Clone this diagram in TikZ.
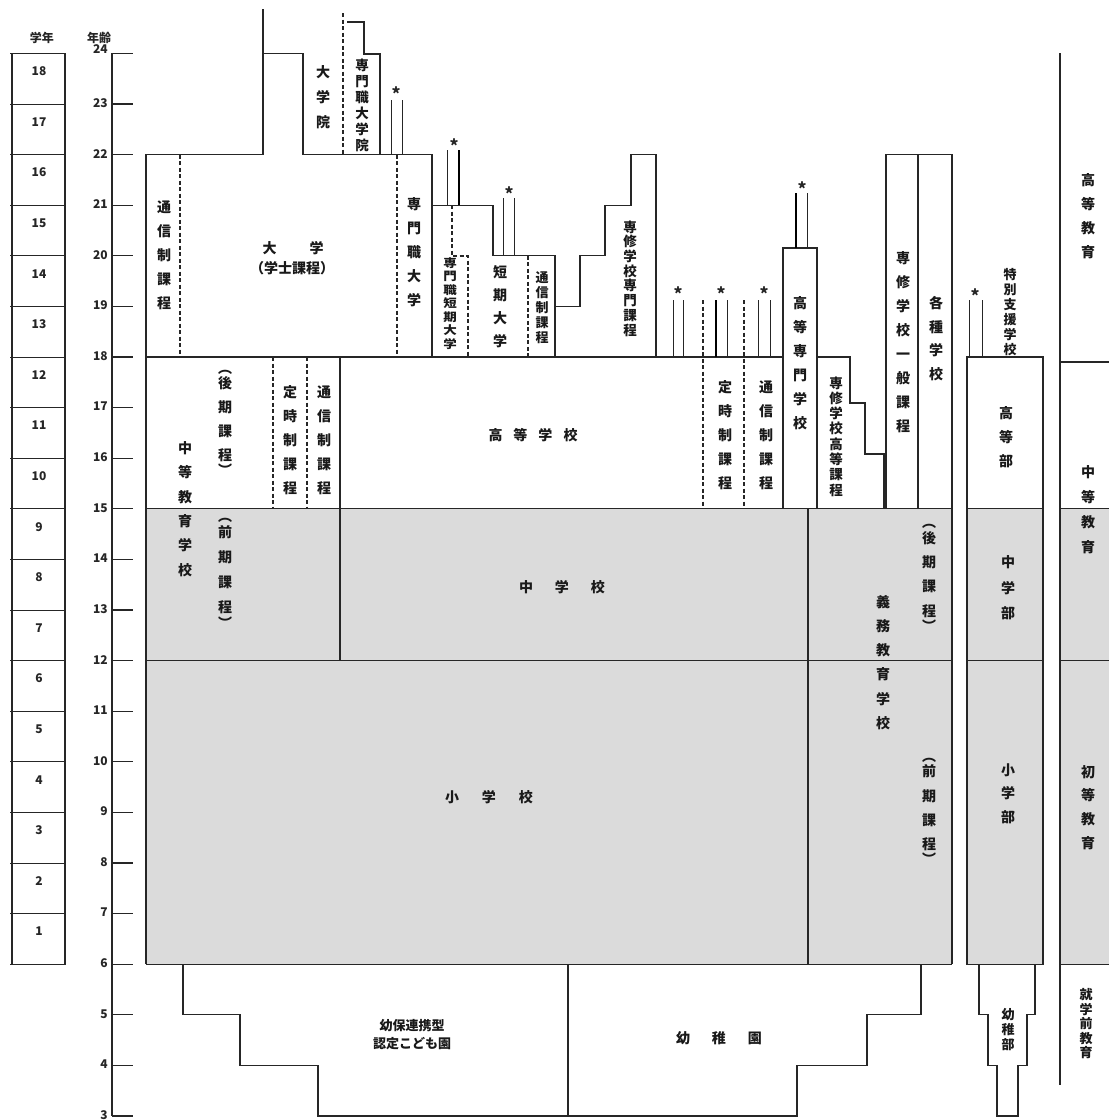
\documentclass[tikz,border=0pt]{standalone}
\usepackage{fontspec}
\usepackage{graphicx}
\setmainfont{Noto Sans CJK JP}
\tikzset{
 ln/.style={line width=1.3pt, draw=black!85},
 dsh/.style={line width=1.1pt, draw=black!85, dash pattern=on 4pt off 2.5pt},
 stub/.style={line width=1pt, draw=black!85},
 thk/.style={line width=2.3pt, draw=black},
 grey/.style={fill=black!14},
 vt/.style 2 args={font=\bfseries\fontsize{#1}{#2}\selectfont, align=center, inner sep=0pt, text=black!90},
 ht/.style={font=\bfseries\fontsize{14}{18}\selectfont, align=center, inner sep=0pt, text=black!90},
 num/.style={font=\bfseries\fontsize{12}{13}\selectfont, inner sep=0pt, text=black!85},
 ast/.style={font=\bfseries\fontsize{17}{18}\selectfont, inner sep=0pt, text=black!85},
}
\begin{document}
\begin{tikzpicture}[x=1pt,y=-1pt]
\fill[white] (0,0) rectangle (1109,1120);
\useasboundingbox (0,0) rectangle (1109,1120);
% grey fills
\fill[grey] (146,508.8) rectangle (808,964.2);
\fill[grey] (808,508.8) rectangle (952,964.2);
\fill[grey] (967,508.8) rectangle (1043,964.2);
\fill[grey] (1060,508.8) rectangle (1109,964.2);
% header
\node[num] (hgrade) at (42,38) {学年};
\node[num] (hage) at (99,38) {年齢};
% grade column
\draw[ln] (12,53.4) -- (12,964.2);
\draw[ln] (65,53.4) -- (65,964.2);
\foreach \a in {6,...,24} {\pgfmathsetmacro\yy{1116-50.6*(\a-3)} \draw[stub] (10,\yy) -- (66,\yy);}
\foreach \g in {1,...,18} {\pgfmathsetmacro\yy{1116-50.6*(\g+3)+18} \node[num] (g\g) at (39,\yy) {\g};}
% age axis
\draw[ln] (112,53.4) -- (112,1116);
\foreach \a in {3,...,24} {\pgfmathsetmacro\yy{1116-50.6*(\a-3)} \draw[ln] (112,\yy) -- (133,\yy);}
\foreach \a in {3,...,23} {\pgfmathsetmacro\yy{1116-50.6*(\a-3)-1} \node[num,anchor=east] (a\a) at (108,\yy) {\a};}
\node[num,anchor=south east] (a24) at (108,54) {24};
% university block
\draw[ln] (146,964.2) -- (146,154.6) -- (263,154.6);
\draw[ln] (263,9) -- (263,154.6);
\draw[ln] (263,53.4) -- (303,53.4) -- (303,154.6) -- (432,154.6) -- (432,357);
\draw[dsh] (343,13) -- (343,154.6);
\draw[ln] (347,22) -- (364,22) -- (364,54) -- (380,54) -- (380,154.6);
\draw[stub] (391,100) -- (391,154.6);
\draw[stub] (402,100) -- (402,154.6);
\node[ast] (s1) at (396,94) {*};
\draw[dsh] (180,154.6) -- (180,357);
\draw[dsh] (397,154.6) -- (397,357);
% junior college block
\draw[ln] (432,205.2) -- (493,205.2) -- (493,255.8) -- (555,255.8) -- (555,357);
\draw[stub] (447,150) -- (447,205.2);
\draw[thk] (459,150) -- (459,205.2);
\node[ast] (s2) at (454,146) {*};
\draw[dsh] (452,205.2) -- (452,256) -- (468,256) -- (468,357);
\draw[stub] (503,198) -- (503,255.8);
\draw[stub] (514,198) -- (514,255.8);
\node[ast] (s3) at (509,194) {*};
\draw[dsh] (528,255.8) -- (528,357);
% senshu senmon
\draw[ln] (555,306.4) -- (580,306.4) -- (580,255.8) -- (605,255.8) -- (605,205.2) -- (631,205.2) -- (631,154.6) -- (656,154.6) -- (656,357);
% age 18 line and stubs
\draw[ln] (146,357) -- (783,357);
\draw[stub] (673,300) -- (673,357);
\draw[stub] (683,300) -- (683,357);
\node[ast] (s4) at (678,294) {*};
\draw[thk] (716,300) -- (716,357);
\draw[stub] (727,300) -- (727,357);
\node[ast] (s5) at (721,294) {*};
\draw[stub] (758,300) -- (758,357);
\draw[stub] (770,300) -- (770,357);
\node[ast] (s6) at (764,294) {*};
\draw[dsh] (703,300) -- (703,508.8);
\draw[dsh] (744,300) -- (744,508.8);
% kosen
\draw[ln] (783,508.8) -- (783,248) -- (817,248) -- (817,508.8);
\draw[thk] (796,193) -- (796,248);
\draw[stub] (807,193) -- (807,248);
\node[ast] (s7) at (802,189) {*};
% senshu koto
\draw[ln] (817,357) -- (850,357) -- (850,403) -- (865,403) -- (865,454) -- (884,454) -- (884,508.8);
% ippan / kakushu
\draw[ln] (886,508.8) -- (886,154.6) -- (952,154.6) -- (952,964.2);
\draw[ln] (918,154.6) -- (918,508.8);
% secondary school
\draw[ln] (340,357) -- (340,660.6);
\draw[dsh] (273,357) -- (273,508.8);
\draw[dsh] (307,357) -- (307,508.8);
\draw[ln] (146,508.8) -- (952,508.8);
\draw[ln] (146,660.6) -- (952,660.6);
\draw[ln] (146,964.2) -- (952,964.2);
\draw[ln] (808,508.8) -- (808,964.2);
% special support school
\draw[ln] (967,357) rectangle (1043,964.2);
\draw[ln] (967,508.8) -- (1043,508.8);
\draw[ln] (967,660.6) -- (1043,660.6);
\draw[stub] (969,300) -- (969,357);
\draw[stub] (982,300) -- (982,357);
\node[ast] (s8) at (975,296) {*};
% right column
\draw[ln] (1060,53) -- (1060,1085);
\draw[ln] (1060,362) -- (1109,362);
\draw[ln] (1060,508.8) -- (1109,508.8);
\draw[ln] (1060,660.6) -- (1109,660.6);
\draw[ln] (1060,964.2) -- (1109,964.2);
% preschool
\draw[ln] (183,964.2) -- (183,1014.8) -- (240,1014.8) -- (240,1065.4) -- (318,1065.4) -- (318,1116) -- (797,1116) -- (797,1065.4) -- (867,1065.4) -- (867,1014.8) -- (921,1014.8) -- (921,964.2);
\draw[ln] (568,964.2) -- (568,1116);
\draw[ln] (979,964.2) -- (979,1014.8) -- (988,1014.8) -- (988,1065.4) -- (997,1065.4) -- (997,1116) -- (1018,1116) -- (1018,1065.4) -- (1027,1065.4) -- (1027,1014.8) -- (1035,1014.8) -- (1035,964.2);
% ---- labels ----
\node[vt={14}{24}] (u1) at (164,255) {通\\信\\制\\課\\程};
\node[ht] (u2) at (293,248) {大\hspace{33pt}学};
\node[ht] (u3) at (292,268) {（学士課程）};
\node[vt={14}{25}] (u4) at (323,97) {大\\学\\院};
\node[vt={13.5}{16}] (u5) at (362,105) {専\\門\\職\\大\\学\\院};
\node[vt={14}{24}] (u6) at (414,252.5) {専\\門\\職\\大\\学};
\node[font=\bfseries, inner sep=0pt, text=black!90] (j1) at (450,305) {\scalebox{1}[0.85]{\fontsize{13.5}{15}\selectfont\begin{tabular}{@{}c@{}}専\\門\\職\\短\\期\\大\\学\end{tabular}}};
\node[vt={14}{23}] (j2) at (500,306.5) {短\\期\\大\\学};
\node[vt={13}{15}] (j3) at (542,307.5) {通\\信\\制\\課\\程};
\node[vt={13.5}{14.7}] (j4) at (630,278.5) {専\\修\\学\\校\\専\\門\\課\\程};
\node[vt={14}{24}] (k1) at (800,363) {高\\等\\専\\門\\学\\校};
\node[vt={13.5}{15.3}] (k2) at (836,436.5) {専\\修\\学\\校\\高\\等\\課\\程};
\node[vt={14}{24}] (k3) at (903,342.5) {専\\修\\学\\校\\一\\般\\課\\程};
\node[vt={14}{23.7}] (k4) at (936,338.5) {各\\種\\学\\校};
\node[vt={13}{15}] (t1) at (1010,312.5) {特\\別\\支\\援\\学\\校};
\node[vt={14}{24}] (t2) at (1006,437) {高\\等\\部};
\node[vt={14}{24}] (c1) at (225,423) {︵\\[-9pt]後\\期\\課\\程\\[-9pt]︶};
\node[vt={14}{24}] (c2) at (290,440) {定\\時\\制\\課\\程};
\node[vt={14}{24}] (c3) at (324,440) {通\\信\\制\\課\\程};
\node[vt={14}{24.4}] (c4) at (185,509) {中\\等\\教\\育\\学\\校};
\node[vt={14}{25}] (c5) at (225,573.5) {︵\\[-9pt]前\\期\\課\\程\\[-9pt]︶};
\node[ht] (h1) at (533,435) {高\hspace{11pt}等\hspace{11pt}学\hspace{11pt}校};
\node[vt={14}{24}] (h2) at (725,435) {定\\時\\制\\課\\程};
\node[vt={14}{24}] (h3) at (766,435) {通\\信\\制\\課\\程};
\node[ht] (m1) at (562,587) {中\hspace{22pt}学\hspace{22pt}校};
\node[ht] (e1) at (489,797) {小\hspace{23pt}学\hspace{23pt}校};
\node[vt={14}{24.2}] (g1n) at (883,662.5) {義\\務\\教\\育\\学\\校};
\node[vt={14}{24.3}] (g2n) at (929,578) {︵\\[-9pt]後\\期\\課\\程\\[-9pt]︶};
\node[vt={14}{24.3}] (g3n) at (929,811.5) {︵\\[-9pt]前\\期\\課\\程\\[-9pt]︶};
\node[vt={14}{25.5}] (t3) at (1008,588) {中\\学\\部};
\node[vt={14}{23.5}] (t4) at (1008,793.5) {小\\学\\部};
\node[vt={14}{24}] (r1) at (1088,216) {高\\等\\教\\育};
\node[vt={14}{25}] (r2) at (1088,510) {中\\等\\教\\育};
\node[vt={14}{23.7}] (r3) at (1088,807.5) {初\\等\\教\\育};
\node[vt={13}{14.5}] (r4) at (1086,1024) {就\\学\\前\\教\\育};
\node[vt={13}{18}] (p1) at (412,1035) {幼保連携型\\認定こども園};
\node[ht] (p2) at (719,1038) {幼\hspace{22pt}稚\hspace{22pt}園};
\node[vt={13}{15}] (p3) at (1008,1030) {幼\\稚\\部};
\end{tikzpicture}
\end{document}
